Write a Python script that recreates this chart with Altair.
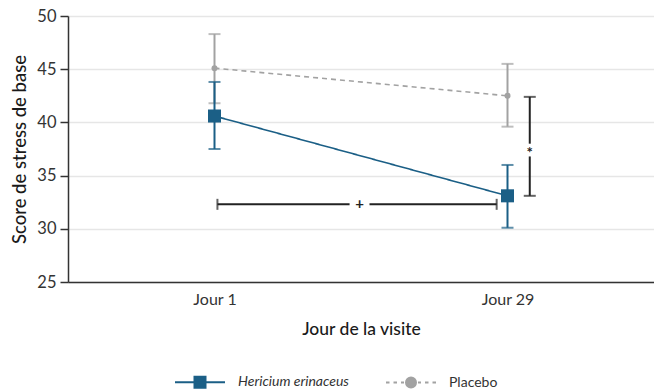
import altair as alt
import pandas as pd

# Visit days and their positions on the x axis
days = ["Jour 1", "Jour 29"]
day_pos = [1, 2]

# Series names and colours
series = ["Hericium erinaceus", "Placebo"]
colors = ["#1b5f86", "#a2a2a2"]

# Mean score with lower/upper error limits per visit
hericium_mean = [40.6, 33.1]
hericium_low = [37.5, 30.1]
hericium_high = [43.8, 36.0]
placebo_mean = [45.1, 42.5]
placebo_low = [41.8, 39.6]
placebo_high = [48.3, 45.5]

# Significance annotations
# between-visit comparison (Hericium): horizontal bracket with "+"
hbar_y = [32.3]
hbar_x = [1.01, 1.963]
hbar_gap = [1.461, 1.529]
hbar_label = ["+"]
# between-group comparison at Jour 29: vertical bracket with "*"
vbar_x = [2.076]
vbar_y = [42.4, 33.1]
vbar_gap = [38.0, 36.8]
vbar_label = ["*"]

y_title = "Score de stress de base"
x_title = "Jour de la visite"

rows = []
for name, means, lows, highs in [
    (series[0], hericium_mean, hericium_low, hericium_high),
    (series[1], placebo_mean, placebo_low, placebo_high),
]:
    for d, p, m, lo, hi in zip(days, day_pos, means, lows, highs):
        rows.append({"series": name, "day": d, "pos": p, "mean": m, "low": lo, "high": hi})
df = pd.DataFrame(rows)

label_expr = " : ".join(
    f"datum.value == {p} ? '{d}'" for p, d in zip(day_pos, days)
) + " : ''"

x_scale = alt.Scale(domain=[0.5, 2.5], nice=False, zero=False)
y_scale = alt.Scale(domain=[25, 50], nice=False, zero=False)

x_axis = alt.Axis(
    values=day_pos,
    labelExpr=label_expr,
    grid=False,
    ticks=False,
    labelPadding=9,
    labelFontSize=16,
    labelColor="#333333",
    titleFontSize=17.5,
    titleFontWeight=500,
    titleColor="#1a1a1a",
    titlePadding=13,
    domainColor="#333333",
    domainWidth=1.5,
)
y_axis = alt.Axis(
    values=[25, 30, 35, 40, 45, 50],
    grid=True,
    gridColor="#e6e6e6",
    gridWidth=1.5,
    tickSize=8,
    tickColor="#333333",
    tickWidth=1.5,
    labelPadding=4,
    labelFontSize=16.5,
    labelColor="#333333",
    titleFontSize=18.5,
    titleFontWeight=500,
    titleColor="#1a1a1a",
    titlePadding=7,
    domainColor="#333333",
    domainWidth=1.5,
)


def X(field):
    return alt.X(field, scale=x_scale, axis=x_axis, title=x_title)


def Y(field):
    return alt.Y(field, scale=y_scale, axis=y_axis, title=y_title)


base = alt.Chart(df)


def series_layers(name, color, dash, shape, size):
    sub = base.transform_filter(alt.datum.series == name)
    line = sub.mark_line(color=color, strokeWidth=1.6, strokeDash=dash).encode(
        x=X("pos:Q"), y=Y("mean:Q")
    )
    err = sub.mark_errorbar(
        color=color,
        thickness=2,
        ticks=alt.TickConfig(size=12, thickness=2, color=color),
    ).encode(x=X("pos:Q"), y=Y("low:Q"), y2="high:Q")
    pts = sub.mark_point(filled=True, opacity=1, color=color, shape=shape, size=size).encode(
        x=X("pos:Q"), y=Y("mean:Q")
    )
    return [line, err, pts]


placebo_layers = series_layers(series[1], colors[1], [5, 4], "circle", 36)
hericium_layers = series_layers(series[0], colors[0], [1, 0], "square", 170)

# Legend: line + marker symbols drawn as custom paths
hericium_path = "M-1,0H1M-0.22,-0.22H0.22V0.22H-0.22Z"
placebo_path = (
    "M-1,0H-0.86M-0.7,0H-0.56M-0.4,0H-0.28"
    "M0.28,0H0.4M0.56,0H0.7M0.86,0H1"
    "M-0.2,0A0.2,0.2 0 1,0 0.2,0A0.2,0.2 0 1,0 -0.2,0Z"
)
legend_layer = (
    base.transform_filter("false")
    .mark_point(filled=True, opacity=1)
    .encode(
        x=X("pos:Q"),
        y=Y("mean:Q"),
        color=alt.Color(
            "series:N",
            scale=alt.Scale(domain=series, range=colors),
            legend=alt.Legend(
                title=None,
                orient="none",
                direction="horizontal",
                legendX=106,
                legendY=340,
                padding=0,
                symbolSize=2500,
                symbolStrokeWidth=2,
                symbolOpacity=1,
                symbolType=alt.expr(
                    f"datum.label == '{series[1]}' ? '{placebo_path}' : '{hericium_path}'"
                ),
                symbolStrokeColor=alt.expr(
                    f"datum.label == '{series[1]}' ? '{colors[1]}' : '{colors[0]}'"
                ),
                labelFontStyle=alt.expr(
                    f"datum.label == '{series[0]}' ? 'italic' : 'normal'"
                ),
                labelFontSize=14,
                labelColor="#333333",
                labelOffset=12,
                columnPadding=33,
            ),
        ),
    )
)

# Significance brackets
ann_color = "#222222"
hb = pd.DataFrame(
    {
        "x": [hbar_x[0], hbar_gap[1]],
        "x2": [hbar_gap[0], hbar_x[1]],
        "y": [hbar_y[0]] * 2,
    }
)
hb_rules = alt.Chart(hb).mark_rule(color=ann_color, strokeWidth=2).encode(
    x=X("x:Q"), x2="x2:Q", y=Y("y:Q")
)
hb_caps = alt.Chart(pd.DataFrame({"x": hbar_x, "y": [hbar_y[0]] * 2})).mark_tick(
    orient="vertical", color=ann_color, size=11, thickness=2
).encode(x=X("x:Q"), y=Y("y:Q"))
hb_text = alt.Chart(
    pd.DataFrame({"x": [(hbar_gap[0] + hbar_gap[1]) / 2], "y": hbar_y, "t": hbar_label})
).mark_text(color=ann_color, fontSize=15, fontWeight="bold", baseline="middle").encode(
    x=X("x:Q"), y=Y("y:Q"), text="t:N"
)

vb = pd.DataFrame(
    {
        "x": [vbar_x[0]] * 2,
        "y": [vbar_y[0], vbar_gap[1]],
        "y2": [vbar_gap[0], vbar_y[1]],
    }
)
vb_rules = alt.Chart(vb).mark_rule(color=ann_color, strokeWidth=2).encode(
    x=X("x:Q"), y=Y("y:Q"), y2="y2:Q"
)
vb_caps = alt.Chart(pd.DataFrame({"x": [vbar_x[0]] * 2, "y": vbar_y})).mark_tick(
    orient="horizontal", color=ann_color, size=12, thickness=2
).encode(x=X("x:Q"), y=Y("y:Q"))
vb_text = alt.Chart(
    pd.DataFrame({"x": vbar_x, "y": [(vbar_gap[0] + vbar_gap[1]) / 2], "t": vbar_label})
).mark_text(color=ann_color, fontSize=15, fontWeight="bold", baseline="middle", dy=3).encode(
    x=X("x:Q"), y=Y("y:Q"), text="t:N"
)

chart = (
    alt.layer(
        *placebo_layers,
        *hericium_layers,
        hb_rules,
        hb_caps,
        hb_text,
        vb_rules,
        vb_caps,
        vb_text,
        legend_layer,
    )
    .properties(
        width=586,
        height=266,
        autosize=alt.AutoSizeParams(type="none"),
        padding={"left": 68, "top": 16, "right": 0, "bottom": 110},
    )
    .configure_view(stroke=None)
    .configure(font="Lato", background="white")
)

chart.save("out.html", embed_options={"renderer": "svg", "actions": False})
